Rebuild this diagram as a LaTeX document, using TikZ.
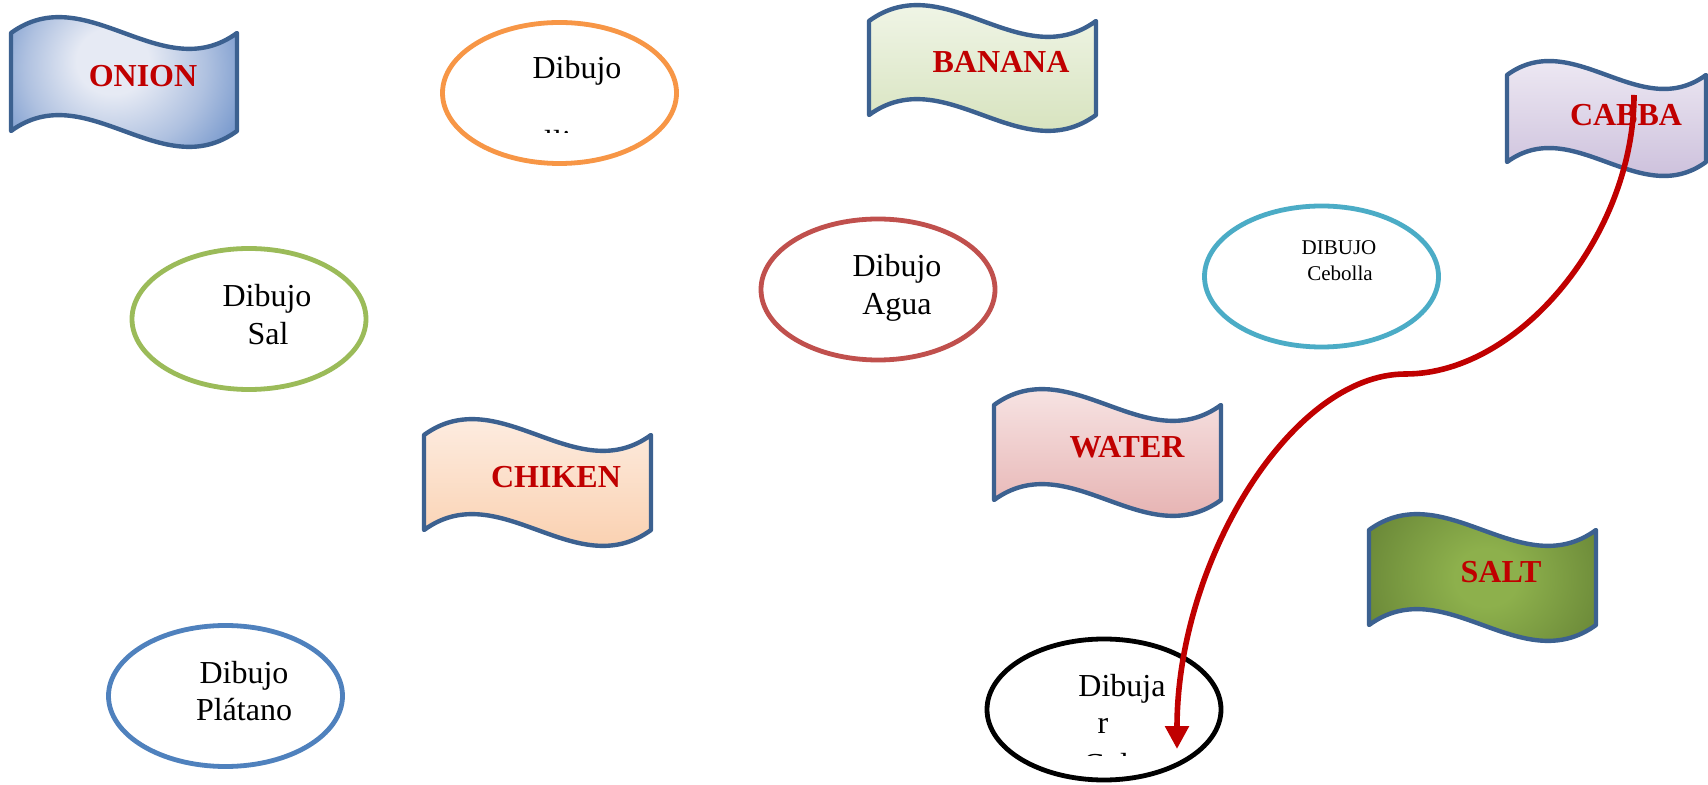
\documentclass[tikz,border=0pt]{standalone}
\usepackage{fontspec}
\setmainfont{Liberation Serif}
\usetikzlibrary{arrows.meta,shapes.geometric}

\definecolor{flagline}{HTML}{3C6190}
\definecolor{titlered}{HTML}{C00000}
\definecolor{arrowc}{HTML}{C00000}
\definecolor{eOrange}{HTML}{F79646}
\definecolor{eGreen}{HTML}{9BBB59}
\definecolor{eRed}{HTML}{C0504D}
\definecolor{eBlue}{HTML}{4F81BD}
\definecolor{eTeal}{HTML}{4BACC6}
\definecolor{onionIn}{HTML}{E6EAF4}
\definecolor{onionMid}{HTML}{AFC1E0}
\definecolor{onionOut}{HTML}{6A8FC8}
\definecolor{saltIn}{HTML}{8DB04C}
\definecolor{saltOut}{HTML}{6C8A39}
\definecolor{bananaTop}{HTML}{F7FAF2}
\definecolor{bananaBot}{HTML}{D0DEB3}
\definecolor{chikenTop}{HTML}{FEF4EE}
\definecolor{chikenBot}{HTML}{F9C9A3}
\definecolor{waterTop}{HTML}{FBF1F1}
\definecolor{waterBot}{HTML}{E2A6A5}
\definecolor{cabbaTop}{HTML}{F6F3F9}
\definecolor{cabbaBot}{HTML}{C4B6D6}

\pgfdeclareradialshading{onionsh}{\pgfpoint{-3bp}{6bp}}{color(0bp)=(onionIn); color(8bp)=(onionIn); color(20bp)=(onionMid); color(32bp)=(onionOut); color(50bp)=(onionOut)}
\pgfdeclareradialshading{saltsh}{\pgfpoint{1bp}{0bp}}{color(0bp)=(saltIn); color(7bp)=(saltIn); color(27bp)=(saltOut); color(50bp)=(saltOut)}

% wave flag: #1 l, #2 r, #3 y of top corners, #4 y of bottom corners, #5 amplitude, #6 style
\newcommand{\waveflag}[6]{%
  \path[flagbox,#6] (#1,#3) .. controls ({#1+(#2-#1)/3},{#3-3.333*#5}) and ({#1+2*(#2-#1)/3},{#3+3.333*#5}) .. (#2,#3)
    -- (#2,#4) .. controls ({#1+2*(#2-#1)/3},{#4+3.333*#5}) and ({#1+(#2-#1)/3},{#4-3.333*#5}) .. (#1,#4) -- cycle;}

\tikzset{
  flagbox/.style={draw=flagline, line width=2.2pt, line join=round},
  flagtext/.style={font=\bfseries\fontsize{16}{19}\selectfont, text=titlered, inner sep=0pt},
  ell/.style={ellipse, line width=2.4pt, minimum width=117pt, minimum height=70.5pt, inner sep=0pt, fill=white},
  lbl/.style={font=\fontsize{16}{19}\selectfont, anchor=base, inner sep=0pt},
  lblsmall/.style={font=\fontsize{10.5}{13}\selectfont, anchor=base, inner sep=0pt},
  arrowline/.style={draw=arrowc, line width=2.8pt, -{Triangle[length=11.5pt,width=11.5pt]}}
}

\begin{document}
\begin{tikzpicture}[x=0.5pt, y=-0.5pt]
\useasboundingbox (0,0) rectangle (1708,785);
\fill[white] (0,0) rectangle (1708,785);

% flags
\waveflag{11}{237}{33}{131}{16.5}{shade, shading=onionsh}
\waveflag{869}{1096}{21}{115}{16.5}{top color=bananaTop, bottom color=bananaBot}
\waveflag{424}{651}{435}{530}{16.5}{top color=chikenTop, bottom color=chikenBot}
\waveflag{994}{1221}{405}{500}{16.5}{top color=waterTop, bottom color=waterBot}
\waveflag{1369}{1596}{530}{625}{16.5}{shade, shading=saltsh}
\waveflag{1507}{1706}{75}{162}{14.5}{top color=cabbaTop, bottom color=cabbaBot}

\node[flagtext] (onion) at (143,76) {ONION};
\node[flagtext] (banana) at (1001,62) {BANANA};
\node[flagtext] (chiken) at (556,477) {CHIKEN};
\node[flagtext] (water) at (1127,447) {WATER};
\node[flagtext] (salt) at (1501,572) {SALT};
\node[flagtext] (cabba) at (1626,115) {CABBA};

% ellipses
\node[ell, draw=eOrange] (ePollo) at (559.5,93) {};
\node[ell, draw=eGreen] (eSal) at (249,319) {};
\node[ell, draw=eRed] (eAgua) at (878,289.5) {};
\node[ell, draw=eBlue] (ePlatano) at (225.5,696) {};
\node[ell, draw=eTeal] (eCebolla) at (1321.5,276.5) {};
\node[ell, draw=black] (eCol) at (1104,709.5) {};

% ellipse texts
\node[lbl] (tPollo1) at (577,79) {Dibujo};
\begin{scope}
  \clip (450,0) rectangle (670,133);
  \node[lbl] (tPollo2) at (554,153) {pollito};
\end{scope}
\node[lbl] (tSal1) at (267,307) {Dibujo};
\node[lbl] (tSal2) at (268,345) {Sal};
\node[lbl] (tAgua1) at (897,277) {Dibujo};
\node[lbl] (tAgua2) at (897,315) {Agua};
\node[lbl] (tPlat1) at (244,683) {Dibujo};
\node[lbl] (tPlat2) at (244,720) {Plátano};
\node[lblsmall] (tCeb1) at (1339,255) {DIBUJO};
\node[lblsmall] (tCeb2) at (1340,281) {Cebolla};
\node[lbl] (tCol1) at (1122,697) {Dibuja};
\node[lbl] (tCol2) at (1103,733) {r};
\begin{scope}
  \clip (1000,600) rectangle (1220,755);
  \node[lbl] (tCol3) at (1106,775) {Col};
\end{scope}

% connector
\coordinate (aS) at (1634,95);
\coordinate (aM) at (1405.5,374);
\coordinate (aE) at (1177,749);
\draw[arrowline] (aS) .. controls (1634,234.5) and (1519.75,374) .. (aM)
  .. controls (1291.25,374) and (1177,561.5) .. (aE);
\end{tikzpicture}
\end{document}
